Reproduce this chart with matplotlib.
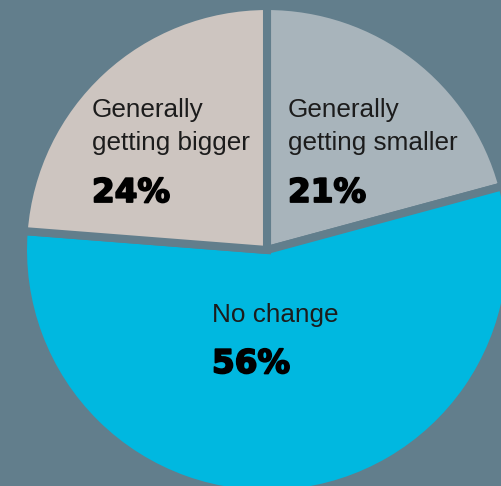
# Pie chart: how sizes are changing (share of answers)

import matplotlib.pyplot as plt
import matplotlib.patheffects as pe

# Data
kategorie = ["Generally getting smaller", "No change", "Generally getting bigger"]
procenty = [21, 56, 24]
kolory = ["#a8b4bb", "#00b8e0", "#cdc5c0"]
tlo = "#627e8c"

W, H = 501, 486
fig = plt.figure(figsize=(W / 100, H / 100), dpi=100, facecolor=tlo)
ax = fig.add_axes([0, 0, 1, 1])
ax.set_facecolor(tlo)

# środek koła i promień w pikselach
cx, cy, r = 267, 250, 244
ax.pie(procenty, colors=kolory, startangle=90, counterclock=False, radius=1,
       wedgeprops=dict(edgecolor=tlo, linewidth=5.8))
ax.set_xlim(-cx / r, (W - cx) / r)
ax.set_ylim(-(H - cy) / r, cy / r)
ax.set_aspect("equal")
ax.axis("off")

# Labels (position in pixels from top-left)
def napis(x, y, s, **kw):
    fig.text(x / W, 1 - y / H, s, ha="left", va="baseline", **kw)

zwykly = dict(family="Liberation Sans", fontsize=18.8, color="#1c1c1c")
# procenty grubiej - dodatkowy obrys w kolorze tekstu
gruby = dict(family="DejaVu Sans", fontsize=23.5, fontweight="bold", color="#000000",
             path_effects=[pe.withStroke(linewidth=1.3, foreground="#000000")])

etykiety = [
    (92, ["Generally", "getting bigger"], procenty[2]),
    (288, ["Generally", "getting smaller"], procenty[0]),
]
for x, linie, p in etykiety:
    napis(x, 117, linie[0], **zwykly)
    napis(x, 150, linie[1], **zwykly)
    napis(x, 202, f"{p}%", **gruby)

napis(212, 322, "No change", **zwykly)
napis(212, 373, f"{procenty[1]}%", **gruby)

fig.savefig("out.png", dpi=100, facecolor=tlo)
